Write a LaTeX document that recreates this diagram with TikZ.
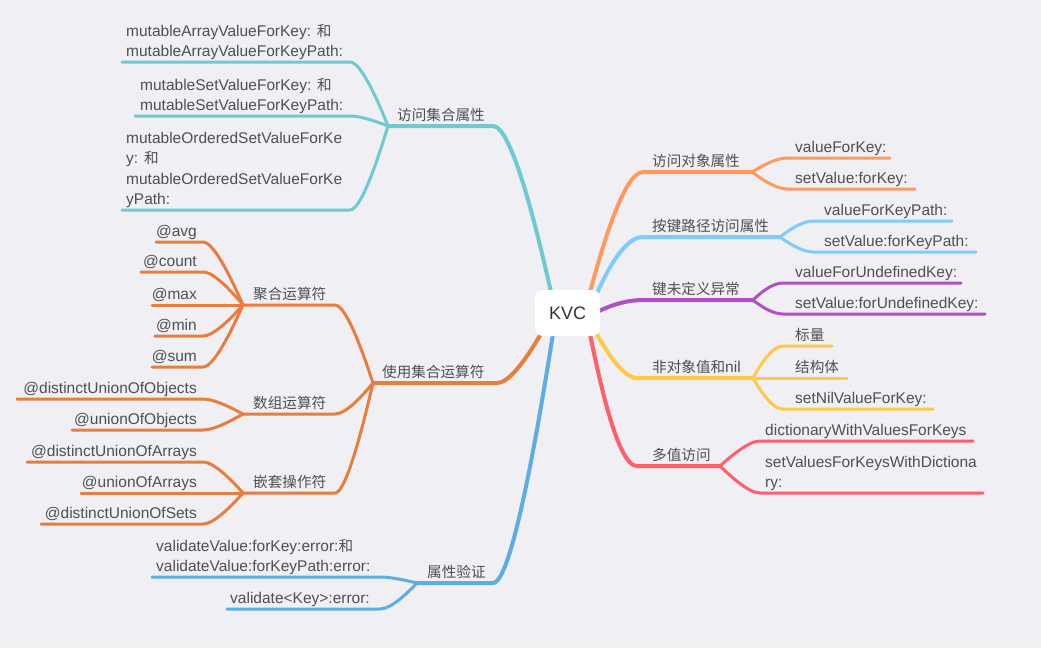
\documentclass[tikz,border=0pt]{standalone}
\usepackage{fontspec}
\setmainfont{Liberation Sans}
\newfontfamily\zhfont{Noto Sans CJK SC}
\newcommand\zh[1]{{\zhfont\fontsize{14.6}{20.5}\selectfont #1}}
\newcommand\lowstrut{\rule[-6pt]{0pt}{1pt}}
\usetikzlibrary{calc}
\definecolor{bgc}{HTML}{EFEFF4}
\definecolor{txtc}{HTML}{505050}
\definecolor{kvct}{HTML}{333333}
\definecolor{cTeal}{HTML}{6DCACE}
\definecolor{cOrR}{HTML}{FF9A5E}
\definecolor{cLBlue}{HTML}{7ECBFF}
\definecolor{cPur}{HTML}{B150C5}
\definecolor{cYel}{HTML}{FFC947}
\definecolor{cRed}{HTML}{FF5E6A}
\definecolor{cOrL}{HTML}{E87D3E}
\definecolor{cBlue}{HTML}{5AAEE3}
\tikzset{
  curv/.style={to path={let \p1=(\tikztostart), \p2=($(\tikztotarget)+(#1,0)$) in .. controls ($(\p1)!0.3!(\p2)$) and (\p2) .. (\tikztotarget)}},
  txt/.style={inner sep=0pt, align=left, text=txtc, font=\fontsize{15.5}{20.5}\selectfont},
  lbl/.style={txt, anchor=south west},
  rlbl/.style={txt, anchor=south east, align=right},
  mainline/.style={line width=4pt, line cap=round, line join=round},
  subline/.style={line width=3pt, line cap=round, line join=round},
  kvcbox/.style={fill=white, rounded corners=8pt, minimum width=65pt, minimum height=46pt, inner sep=0pt, text=kvct, font=\fontsize{18}{20}\selectfont},
}
\begin{document}
\begin{tikzpicture}[x=1pt,y=-1pt]
\fill[bgc] (0,0) rectangle (1041,648);
\useasboundingbox (0,0) rectangle (1041,648);

% start points on the KVC box
\coordinate (kTe) at (551,292);
\coordinate (kOR) at (590,292);
\coordinate (kLB) at (597,293);
\coordinate (kPu) at (599,311);
\coordinate (kYe) at (596,333);
\coordinate (kRe) at (590,334);
\coordinate (kOL) at (542,332);
\coordinate (kBl) at (553,334);

% ---------- right: 访问对象属性
\coordinate (r1s) at (643,172); \coordinate (r1e) at (752,172);
\coordinate (r1as) at (787,158); \coordinate (r1ae) at (890,158);
\coordinate (r1bs) at (787,189); \coordinate (r1be) at (915,189);
\draw[mainline,cOrR] (kOR) to[curv=-20] (r1s) -- (r1e);
\draw[subline,cOrR] (r1e) to[curv=-12] (r1as) -- (r1ae);
\draw[subline,cOrR] (r1e) to[curv=-12] (r1bs) -- (r1be);
\node[lbl] (t-r1) at (652,173) {\zh{访问对象属性}\lowstrut};
\node[lbl] (t-r1a) at (795,159) {valueForKey:\lowstrut};
\node[lbl] (t-r1b) at (795,190) {setValue:forKey:\lowstrut};

% ---------- right: 按键路径访问属性
\coordinate (r2s) at (643,237); \coordinate (r2e) at (780,237);
\coordinate (r2as) at (813,221); \coordinate (r2ae) at (952,221);
\coordinate (r2bs) at (813,252); \coordinate (r2be) at (976,252);
\draw[mainline,cLBlue] (kLB) to[curv=-20] (r2s) -- (r2e);
\draw[subline,cLBlue] (r2e) to[curv=-12] (r2as) -- (r2ae);
\draw[subline,cLBlue] (r2e) to[curv=-12] (r2bs) -- (r2be);
\node[lbl] (t-r2) at (652,238) {\zh{按键路径访问属性}\lowstrut};
\node[lbl] (t-r2a) at (824,222) {valueForKeyPath:\lowstrut};
\node[lbl] (t-r2b) at (824,253) {setValue:forKeyPath:\lowstrut};

% ---------- right: 键未定义异常
\coordinate (r3s) at (643,300); \coordinate (r3e) at (753,300);
\coordinate (r3as) at (783,283); \coordinate (r3ae) at (961,283);
\coordinate (r3bs) at (783,314); \coordinate (r3be) at (985,314);
\draw[mainline,cPur] (kPu) to[curv=-20] (r3s) -- (r3e);
\draw[subline,cPur] (r3e) to[curv=-12] (r3as) -- (r3ae);
\draw[subline,cPur] (r3e) to[curv=-12] (r3bs) -- (r3be);
\node[lbl] (t-r3) at (652,301) {\zh{键未定义异常}\lowstrut};
\node[lbl] (t-r3a) at (795,284) {valueForUndefinedKey:\lowstrut};
\node[lbl] (t-r3b) at (795,315) {setValue:forUndefinedKey:\lowstrut};

% ---------- right: 非对象值和nil
\coordinate (r4s) at (637,378); \coordinate (r4e) at (753,378);
\coordinate (r4as) at (783,346); \coordinate (r4ae) at (832,346);
\coordinate (r4bs) at (783,378); \coordinate (r4be) at (847,378);
\coordinate (r4cs) at (783,409); \coordinate (r4ce) at (933,409);
\draw[mainline,cYel] (kYe) to[curv=-15] (r4s) -- (r4e);
\draw[subline,cYel] (r4e) to[curv=-12] (r4as) -- (r4ae);
\draw[subline,cYel] (r4e) -- (r4bs) -- (r4be);
\draw[subline,cYel] (r4e) to[curv=-12] (r4cs) -- (r4ce);
\node[lbl] (t-r4) at (652,379) {\zh{非对象值和}nil\lowstrut};
\node[lbl] (t-r4a) at (795,347) {\zh{标量}\lowstrut};
\node[lbl] (t-r4b) at (795,379) {\zh{结构体}\lowstrut};
\node[lbl] (t-r4c) at (795,410) {setNilValueForKey:\lowstrut};

% ---------- right: 多值访问
\coordinate (r5s) at (637,466); \coordinate (r5e) at (720,466);
\coordinate (r5as) at (760,441); \coordinate (r5ae) at (973,441);
\coordinate (r5bs) at (760,493); \coordinate (r5be) at (983,493);
\draw[mainline,cRed] (kRe) to[curv=-20] (r5s) -- (r5e);
\draw[subline,cRed] (r5e) to[curv=-12] (r5as) -- (r5ae);
\draw[subline,cRed] (r5e) to[curv=-12] (r5bs) -- (r5be);
\node[lbl] (t-r5) at (652,467) {\zh{多值访问}\lowstrut};
\node[lbl] (t-r5a) at (765,442) {dictionaryWithValuesForKeys\lowstrut};
\node[lbl] (t-r5b) at (765,494) {setValuesForKeysWithDictiona\\ry:\lowstrut};

% ---------- left: 访问集合属性
\coordinate (l1s) at (388,126); \coordinate (l1e) at (493,126);
\coordinate (l1as) at (122,62); \coordinate (l1ae) at (350,62);
\coordinate (l1bs) at (135,116); \coordinate (l1be) at (350,116);
\coordinate (l1cs) at (122,210); \coordinate (l1ce) at (350,210);
\draw[mainline,cTeal] (kTe) to[curv=20] (l1e) -- (l1s);
\draw[subline,cTeal] (l1s) to[curv=12] (l1ae) -- (l1as);
\draw[subline,cTeal] (l1s) to[curv=12] (l1be) -- (l1bs);
\draw[subline,cTeal] (l1s) to[curv=12] (l1ce) -- (l1cs);
\node[lbl] (t-l1) at (397,127) {\zh{访问集合属性}\lowstrut};
\node[lbl] (t-l1a) at (126,63) {mutableArrayValueForKey: \zh{和}\\mutableArrayValueForKeyPath:\lowstrut};
\node[lbl] (t-l1b) at (140,117) {mutableSetValueForKey: \zh{和}\\mutableSetValueForKeyPath:\lowstrut};
\node[lbl] (t-l1c) at (126,211) {mutableOrderedSetValueForKe\\y: \zh{和}\\mutableOrderedSetValueForKe\\yPath:\lowstrut};

% ---------- left: 使用集合运算符
\coordinate (l2s) at (373,383); \coordinate (l2e) at (497,383);
\draw[mainline,cOrL] (kOL) to[curv=15] (l2e) -- (l2s);
\node[lbl] (t-l2) at (382,384) {\zh{使用集合运算符}\lowstrut};

\coordinate (l2as) at (243,305); \coordinate (l2ae) at (335,305);
\coordinate (l2bs) at (243,414); \coordinate (l2be) at (335,414);
\coordinate (l2cs) at (243,493); \coordinate (l2ce) at (335,493);
\draw[subline,cOrL] (l2s) to[curv=12] (l2ae) -- (l2as);
\draw[subline,cOrL] (l2s) to[curv=12] (l2be) -- (l2bs);
\draw[subline,cOrL] (l2s) to[curv=12] (l2ce) -- (l2cs);
\node[lbl] (t-l2a) at (253,306) {\zh{聚合运算符}\lowstrut};
\node[lbl] (t-l2b) at (253,415) {\zh{数组运算符}\lowstrut};
\node[lbl] (t-l2c) at (253,494) {\zh{嵌套操作符}\lowstrut};

% leaves of 聚合运算符
\coordinate (a1s) at (156,242); \coordinate (a1e) at (203,242);
\coordinate (a2s) at (141,272); \coordinate (a2e) at (203,272);
\coordinate (a3s) at (152,305); \coordinate (a3e) at (203,305);
\coordinate (a4s) at (155,336); \coordinate (a4e) at (203,336);
\coordinate (a5s) at (152,367); \coordinate (a5e) at (203,367);
\draw[subline,cOrL] (l2as) to[curv=12] (a1e) -- (a1s);
\draw[subline,cOrL] (l2as) to[curv=12] (a2e) -- (a2s);
\draw[subline,cOrL] (l2as) -- (a3e) -- (a3s);
\draw[subline,cOrL] (l2as) to[curv=12] (a4e) -- (a4s);
\draw[subline,cOrL] (l2as) to[curv=12] (a5e) -- (a5s);
\node[rlbl] (t-a1) at (197,243) {@avg\lowstrut};
\node[rlbl] (t-a2) at (197,273) {@count\lowstrut};
\node[rlbl] (t-a3) at (197,306) {@max\lowstrut};
\node[rlbl] (t-a4) at (197,337) {@min\lowstrut};
\node[rlbl] (t-a5) at (197,368) {@sum\lowstrut};

% leaves of 数组运算符
\coordinate (b1s) at (17,399); \coordinate (b1e) at (203,399);
\coordinate (b2s) at (72,430); \coordinate (b2e) at (203,430);
\draw[subline,cOrL] (l2bs) to[curv=12] (b1e) -- (b1s);
\draw[subline,cOrL] (l2bs) to[curv=12] (b2e) -- (b2s);
\node[rlbl] (t-b1) at (197,400) {@distinctUnionOfObjects\lowstrut};
\node[rlbl] (t-b2) at (197,431) {@unionOfObjects\lowstrut};

% leaves of 嵌套操作符
\coordinate (c1s) at (27,462); \coordinate (c1e) at (203,462);
\coordinate (c2s) at (81,493); \coordinate (c2e) at (203,493);
\coordinate (c3s) at (41,524); \coordinate (c3e) at (203,524);
\draw[subline,cOrL] (l2cs) to[curv=12] (c1e) -- (c1s);
\draw[subline,cOrL] (l2cs) -- (c2e) -- (c2s);
\draw[subline,cOrL] (l2cs) to[curv=12] (c3e) -- (c3s);
\node[rlbl] (t-c1) at (197,463) {@distinctUnionOfArrays\lowstrut};
\node[rlbl] (t-c2) at (197,494) {@unionOfArrays\lowstrut};
\node[rlbl] (t-c3) at (197,525) {@distinctUnionOfSets\lowstrut};

% ---------- left: 属性验证
\coordinate (l3s) at (417,583); \coordinate (l3e) at (493,583);
\coordinate (l3as) at (152,577); \coordinate (l3ae) at (380,577);
\coordinate (l3bs) at (227,609); \coordinate (l3be) at (380,609);
\draw[mainline,cBlue] (kBl) to[curv=20] (l3e) -- (l3s);
\draw[subline,cBlue] (l3s) to[curv=12] (l3ae) -- (l3as);
\draw[subline,cBlue] (l3s) to[curv=12] (l3be) -- (l3bs);
\node[lbl] (t-l3) at (427,584) {\zh{属性验证}\lowstrut};
\node[lbl] (t-l3a) at (156,578) {validateValue:forKey:error:\zh{和}\\validateValue:forKeyPath:error:\lowstrut};
\node[rlbl] (t-l3b) at (370,610) {validate<Key>:error:\lowstrut};

% ---------- centre
\node[kvcbox] (kvc) at (567.5,313) {KVC};
\end{tikzpicture}
\end{document}
